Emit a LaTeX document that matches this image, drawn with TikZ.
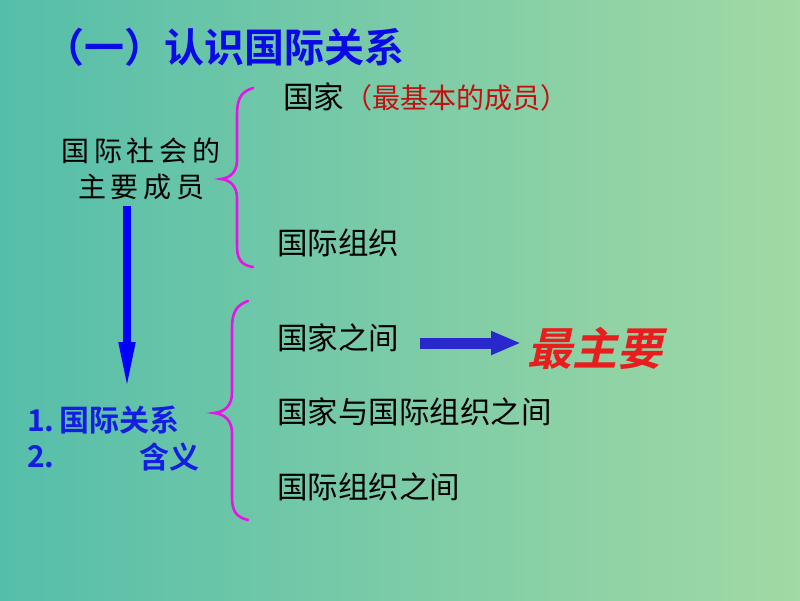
\documentclass[tikz,border=0pt]{standalone}
\usepackage{fontspec}
\setmainfont{Noto Sans CJK SC}[BoldFont={Noto Sans CJK SC Bold}]
\newfontfamily\slantcjk{Noto Sans CJK SC Bold}[FakeSlant=0.22]
\usetikzlibrary{arrows.meta}
\definecolor{bgL}{RGB}{85,190,170}
\definecolor{bgM}{RGB}{135,206,168}
\definecolor{bgR}{RGB}{162,217,164}
\definecolor{ttlblue}{RGB}{10,10,230}
\definecolor{lblblue}{RGB}{20,30,225}
\definecolor{brmag}{RGB}{230,20,230}
\definecolor{drk}{RGB}{195,15,15}
\definecolor{hot}{RGB}{232,30,30}
\definecolor{arrblue}{RGB}{40,40,205}
\tikzset{
  txt/.style={anchor=west, inner sep=0pt, font=\fontsize{30.5}{34}\selectfont, text=black},
  bluetxt/.style={inner sep=0pt, font=\fontsize{30}{34}\selectfont\bfseries, text=lblblue},
  bracepath/.style={draw=brmag, line width=2.6pt, line cap=round},
}
\begin{document}
\begin{tikzpicture}[x=1pt,y=-1pt]
\shade[left color=bgL, middle color=bgM, right color=bgR, shading angle=90] (0,0) rectangle (800,600);
\useasboundingbox (0,0) rectangle (800,600);
% title
\node[anchor=west, inner sep=0pt, font=\fontsize{40}{44}\selectfont\bfseries, text=ttlblue] (title) at (44,47) {（一）认识国际关系};
% upper group
\node[txt] (guojia) at (283,97) {国家{\fontsize{28}{32}\selectfont\color{drk}（最基本的成员）}};
\node[txt] (zuzhi) at (277,243) {国际组织};
\node[anchor=center, inner sep=0pt, align=center, font=\fontsize{28}{36}\selectfont, text=black] (member) at (141,169) {国\,际\,社\,会\,的\\主\,要\,成\,员};
% brace 1
\draw[bracepath] (253,88) .. controls (240,92) and (237,100) .. (237,115) -- (237,160) .. controls (237,172) and (230,178) .. (221,179) .. controls (230,180) and (237,186) .. (237,198) -- (237,245) .. controls (237,258) and (240,265) .. (253,267);
% vertical arrow
\coordinate (vtop) at (127,206);
\coordinate (vbot) at (127,390);
\draw[draw=blue, line width=7.5pt, -{Triangle[length=48pt,width=15pt]}] (vtop) -- (vbot);
% lower left label
\node[bluetxt, anchor=west] (rel) at (27,420) {1.\,国际关系};
\node[bluetxt, anchor=west] (two) at (27,457) {2.};
\node[bluetxt, anchor=east] (hanyi) at (200,457) {含义};
% brace 2
\draw[bracepath] (248,301) .. controls (236,305) and (232,313) .. (232,328) -- (232,393) .. controls (232,405) and (225,412) .. (214,413) .. controls (225,414) and (232,421) .. (232,433) -- (232,497) .. controls (232,511) and (236,517) .. (248,520);
% lower right texts
\node[txt] (gjzj) at (277,338) {国家之间};
\node[txt] (gjyzz) at (277,412) {国家与国际组织之间};
\node[txt] (zzzj) at (277,487) {国际组织之间};
\node[anchor=west, inner sep=0pt, font=\fontsize{45}{48}\slantcjk, text=hot] (main) at (527,348) {最主要};
\coordinate (hs) at (420,343);
\coordinate (he) at (521,343);
\draw[draw=arrblue, line width=11pt, -{Triangle[length=30pt,width=22pt]}] (hs) -- (he);
\end{tikzpicture}
\end{document}
